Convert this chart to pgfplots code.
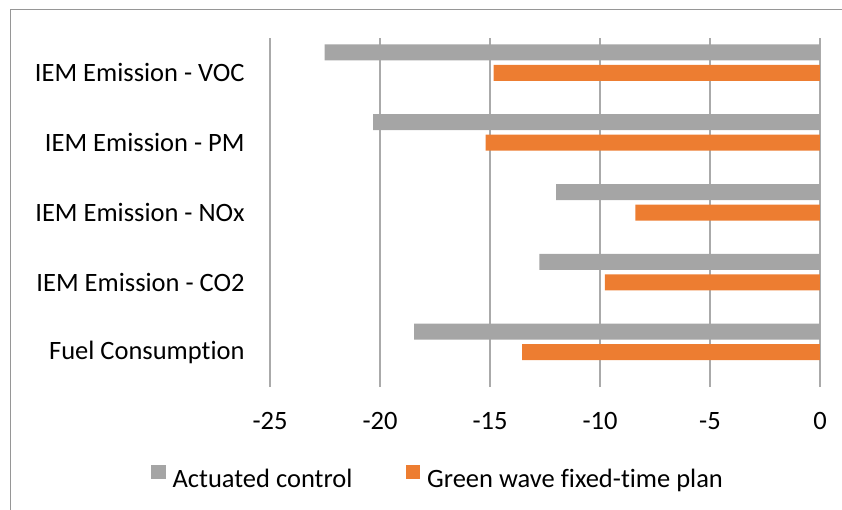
\documentclass[border=0pt]{standalone}
\usepackage{fontspec}
\setmainfont{Carlito}[Ligatures=NoCommon]
\usepackage{pgfplots}
\pgfplotsset{compat=1.18}
\definecolor{actgray}{RGB}{165,165,165}
\definecolor{gwor}{RGB}{237,125,49}
\definecolor{gridgray}{RGB}{170,170,170}
\definecolor{bordergray}{RGB}{150,150,150}
\begin{document}
\begin{tikzpicture}
\begin{axis}[
  xbar,
  scale only axis,
  width=275bp, height=174.5bp,
  xmin=-25, xmax=0, ymin=-0.5, ymax=4.5,
  xtick={-25,-20,-15,-10,-5,0},
  ytick={0,1,2,3,4},
  yticklabels={Fuel Consumption, IEM Emission - CO2, IEM Emission - NOx, IEM Emission - PM, IEM Emission - VOC},
  xmajorgrids,
  major grid style={draw=gridgray, line width=0.75bp},
  axis line style={draw=none},
  major tick length=0pt,
  /pgf/number format/assume math mode=true,
  every tick label/.append style={font=\fontsize{13.3}{16}\selectfont, text=black},
  xticklabel style={anchor=north, inner sep=0pt, yshift=-12.3bp},
  yticklabel style={anchor=east, inner sep=0pt, xshift=-12.5bp},
  bar width=8bp,
  legend columns=2,
  legend image code/.code={\fill[#1] (0bp,0bp) rectangle (7.1bp,7.1bp);},
  legend style={at={(-0.2164,-0.2596)}, anchor=west, draw=none, fill=none,
    inner sep=0pt, font=\fontsize{13.3}{16}\selectfont,
    nodes={inner sep=0pt},
    /tikz/every odd column/.append style={column sep=3.5bp},
    /tikz/every even column/.append style={column sep=26.75bp}},
]
\addplot[fill=actgray, draw=none, bar shift=10.25bp] coordinates {
  (-18.45,0) (-12.75,1) (-11.99,2) (-20.31,3) (-22.52,4)};
\addlegendentry{Actuated control}
\addplot[fill=gwor, draw=none, bar shift=0bp] coordinates {
  (-13.54,0) (-9.78,1) (-8.39,2) (-15.20,3) (-14.84,4)};
\addlegendentry{Green wave fixed-time plan}
\end{axis}
\draw[bordergray, line width=0.9bp] (-129.75bp,-61.5bp) -- (-129.75bp,188.75bp) -- (286bp,188.75bp);
\pgfresetboundingbox
\useasboundingbox (-135bp,-61.5bp) rectangle (286bp,193.5bp);
\end{tikzpicture}
\end{document}
